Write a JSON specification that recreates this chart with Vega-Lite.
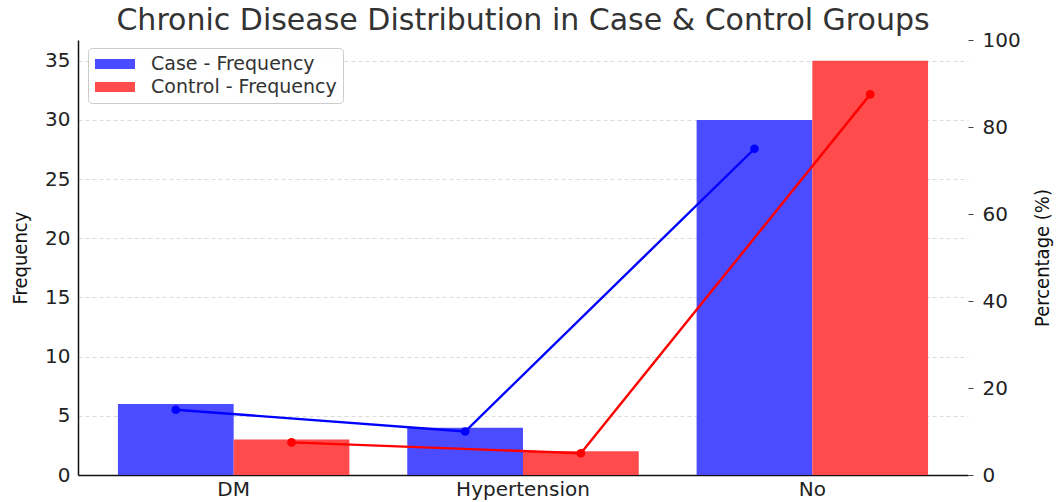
{
  "$schema": "https://vega.github.io/schema/vega-lite/v6.json",
  "width": 890,
  "height": 435,
  "autosize": {"type": "none"},
  "padding": {"left": 78, "top": 40, "right": 91, "bottom": 27},
  "background": "white",
  "title": {
    "text": "Chronic Disease Distribution in Case & Control Groups",
    "font": "DejaVu Sans",
    "fontSize": 30,
    "fontWeight": "normal",
    "color": "#333333",
    "anchor": "middle",
    "baseline": "bottom",
    "offset": 1,
    "dy": 37
  },
  "config": {
    "view": {"stroke": null},
    "axis": {
      "labelFont": "DejaVu Sans",
      "labelFontSize": 20,
      "labelColor": "#222222",
      "titleFont": "DejaVu Sans Condensed",
      "titleFontSize": 20,
      "titleFontWeight": "normal",
      "titleColor": "#111111",
      "gridColor": "#cccccc",
      "gridDash": [4, 3],
      "gridOpacity": 0.7,
      "tickColor": "#444444",
      "tickSize": 5,
      "domainColor": "#111111",
      "domainWidth": 1.5
    }
  },
  "data": {
    "values": [
      {"Condition": "DM", "Group": "Case", "Frequency": 6, "Percentage": 15},
      {"Condition": "DM", "Group": "Control", "Frequency": 3, "Percentage": 7.5},
      {"Condition": "Hypertension", "Group": "Case", "Frequency": 4, "Percentage": 10},
      {"Condition": "Hypertension", "Group": "Control", "Frequency": 2, "Percentage": 5},
      {"Condition": "No", "Group": "Case", "Frequency": 30, "Percentage": 75},
      {"Condition": "No", "Group": "Control", "Frequency": 35, "Percentage": 87.5}
    ]
  },
  "encoding": {
    "x": {
      "field": "Condition",
      "type": "nominal",
      "sort": ["DM", "Hypertension", "No"],
      "scale": {"paddingInner": 0.2, "paddingOuter": 0.138},
      "axis": {"title": null, "labelAngle": 0, "labelPadding": 4, "ticks": false, "domainWidth": 1.5}
    },
    "xOffset": {"field": "Group", "type": "nominal", "sort": ["Case", "Control"]}
  },
  "layer": [
    {
      "mark": {"type": "bar"},
      "encoding": {
        "y": {
          "field": "Frequency",
          "type": "quantitative",
          "scale": {"domain": [0, 36.75], "nice": false},
          "axis": {
            "orient": "left",
            "title": "Frequency",
            "values": [0, 5, 10, 15, 20, 25, 30, 35],
            "ticks": false,
            "labelPadding": 8,
            "titlePadding": 14
          }
        },
        "color": {
          "field": "Group",
          "type": "nominal",
          "sort": ["Case", "Control"],
          "scale": {"domain": ["Case", "Control"], "range": ["#4b4bff", "#ff4b4b"]},
          "legend": {
            "title": null,
            "orient": "none",
            "legendX": 10,
            "legendY": 8,
            "labelExpr": "datum.label + ' - Frequency'",
            "labelFont": "DejaVu Sans",
            "labelFontSize": 19,
            "labelColor": "#333333",
            "labelLimit": 400,
            "symbolType": "M-2,-0.5H2V0.5H-2Z",
            "symbolSize": 400,
            "symbolStrokeWidth": 0,
            "symbolOpacity": 1,
            "symbolOffset": 11,
            "labelOffset": 26,
            "fillColor": "rgba(255,255,255,0.85)",
            "strokeColor": "#cccccc",
            "cornerRadius": 4,
            "padding": 6,
            "rowPadding": 3
          }
        }
      }
    },
    {
      "layer": [
        {
          "mark": {"type": "line", "strokeWidth": 2.4},
          "encoding": {
            "y": {
              "field": "Percentage",
              "type": "quantitative",
              "scale": {"domain": [0, 100], "nice": false},
              "axis": {
                "orient": "right",
                "title": "Percentage (%)",
                "titleAngle": 270,
                "values": [0, 20, 40, 60, 80, 100],
                "domain": false,
                "labelPadding": 9,
                "titlePadding": 32
              }
            },
            "color": {
              "field": "Group",
              "type": "nominal",
              "scale": {"domain": ["Case", "Control"], "range": ["#0000ff", "#ff0000"]},
              "legend": null
            }
          }
        },
        {
          "mark": {"type": "point", "filled": true, "size": 75, "opacity": 1},
          "encoding": {
            "y": {"field": "Percentage", "type": "quantitative"},
            "color": {
              "field": "Group",
              "type": "nominal",
              "scale": {"domain": ["Case", "Control"], "range": ["#0000ff", "#ff0000"]},
              "legend": null
            }
          }
        }
      ]
    }
  ],
  "resolve": {"scale": {"y": "independent", "color": "independent"}}
}
